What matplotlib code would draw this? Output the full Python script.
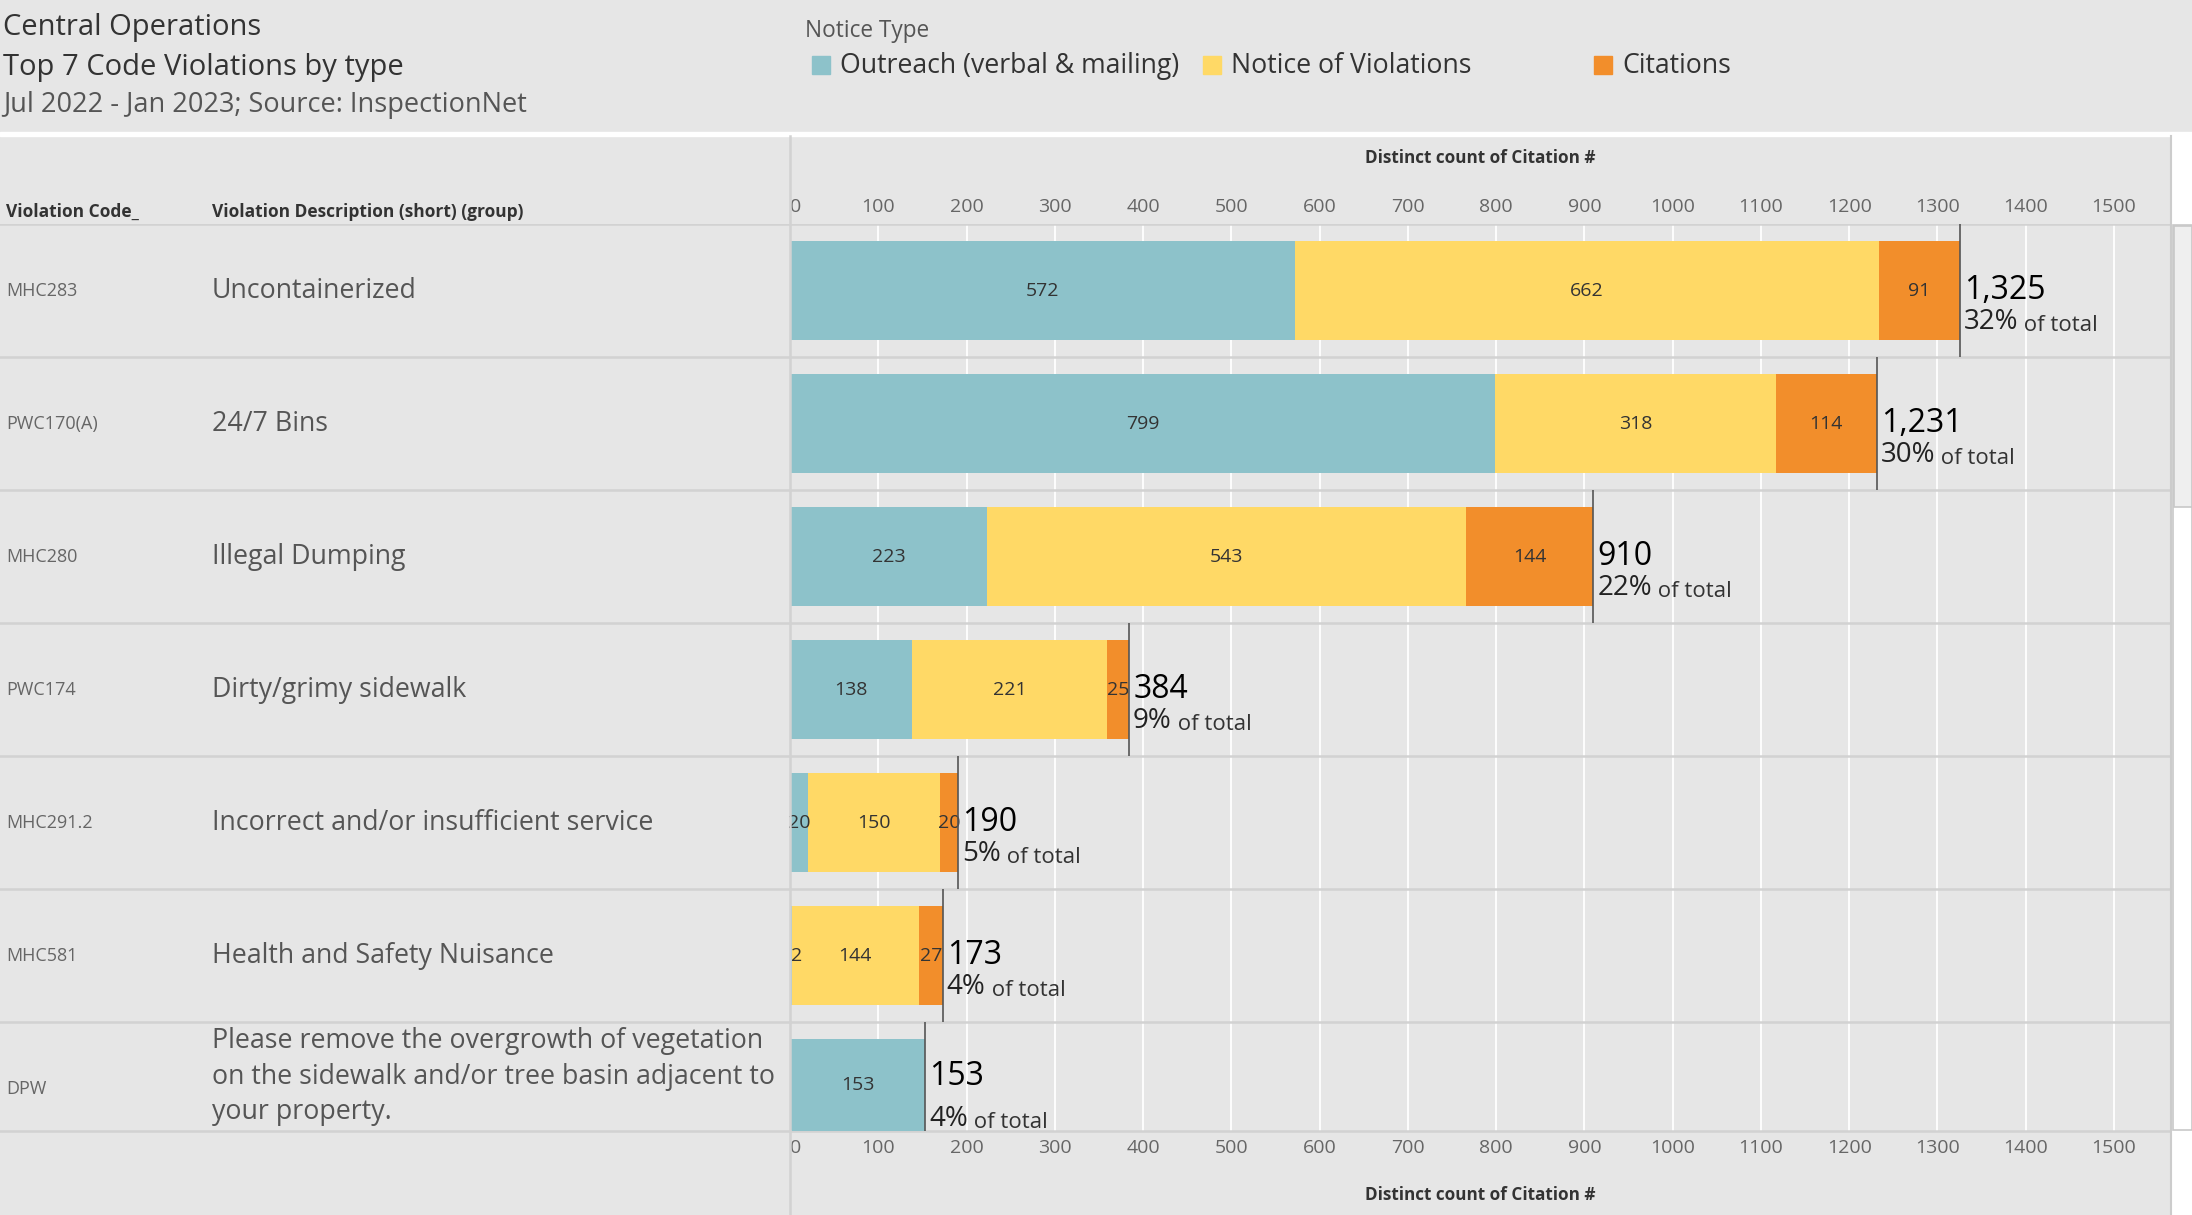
import matplotlib
matplotlib.use('Agg')
import matplotlib.pyplot as plt
from matplotlib.patches import Rectangle
from matplotlib.lines import Line2D

plt.rcParams['font.family'] = ['Open Sans', 'DejaVu Sans']

# data
codes = ['MHC283', 'PWC170(A)', 'MHC280', 'PWC174', 'MHC291.2', 'MHC581', 'DPW']
descriptions = ['Uncontainerized', '24/7 Bins', 'Illegal Dumping', 'Dirty/grimy sidewalk',
                'Incorrect and/or insufficient service', 'Health and Safety Nuisance',
                'Please remove the overgrowth of vegetation\non the sidewalk and/or tree basin adjacent to\nyour property.']
outreach = [572, 799, 223, 138, 20, 2, 153]
notices = [662, 318, 543, 221, 150, 144, 0]
citations = [91, 114, 144, 25, 20, 27, 0]
totals = [1325, 1231, 910, 384, 190, 173, 153]
pct_of_total = [32, 30, 22, 9, 5, 4, 4]
ticks = list(range(0, 1600, 100))

types = ['Outreach (verbal & mailing)', 'Notice of Violations', 'Citations']
colors = ['#8dc2ca', '#ffd966', '#f28e2b']

W, H = 2192, 1215
BG = '#e6e6e6'
LINE = '#d2d2d2'


def fx(x):
    return x / W


def fy(y):
    return 1 - y / H


fig = plt.figure(figsize=(W / 100, H / 100), dpi=100, facecolor=BG)

top, bottom = 224, 1131
row_px = 133
n_vis = (bottom - top) / row_px
x0, x1 = 790, 2171
px_per_unit = 1324 / 1500

# bar pane
ax = fig.add_axes([fx(x0), fy(bottom), fx(x1) - fx(x0), fy(top) - fy(bottom)])
ax.set_facecolor(BG)
ax.set_xlim(0, (x1 - x0) / px_per_unit)
ax.set_ylim(n_vis, 0)
for s in ax.spines.values():
    s.set_visible(False)

ypos = [i + 0.5 for i in range(len(codes))]
left = [0] * len(codes)
for vals, col, name in zip([outreach, notices, citations], colors, types):
    bars = ax.barh(ypos, vals, left=left, height=0.75, color=col, label=name, zorder=2)
    labs = ax.bar_label(bars, labels=[str(v) if v else '' for v in vals], label_type='center',
                        fontsize=14, color='#333333')
    # tiny first segments: keep the label inside the pane like tableau does
    for lab, v, l in zip(labs, vals, left):
        if l == 0 and 0 < v < 10:
            lab.set_ha('left')
    left = [l + v for l, v in zip(left, vals)]

ax.vlines(totals, [i for i in range(len(codes))], [i + 1 for i in range(len(codes))],
          color='#555555', lw=1.2, zorder=3)

ax.set_xticks(ticks)
ax.set_yticks([])
ax.grid(axis='x', color='white', lw=1.3)
ax.set_axisbelow(True)
ax.tick_params(axis='x', top=True, labeltop=True, bottom=True, labelbottom=True,
               length=0, labelsize=14, labelcolor='#666666', pad=6)
first = ax.xaxis.get_major_ticks()[0]
first.label1.set_ha('left')
first.label2.set_ha('left')

for k in range(len(codes)):
    ax.axhline(k, color=LINE, lw=1.8, zorder=1)
ax.axhline(n_vis, color=LINE, lw=1.8, zorder=1, clip_on=False)

for i, (t, p) in enumerate(zip(totals, pct_of_total)):
    yc = (i + min(i + 1, n_vis)) / 2
    gap = 31 if i + 1 <= n_vis else 42
    ax.annotate(f'{t:,}', (t, yc), xytext=(3, 0), textcoords='offset points',
                fontsize=23, va='center', color='black')
    pt = ax.annotate(f'{p}%', (t, yc), xytext=(3, -gap * 0.72), textcoords='offset points',
                     fontsize=20, va='center', color='#222222')
    ax.annotate(' of total', (1, 0), xycoords=pt, fontsize=16, va='bottom', color='#333333')

# label pane
lax = fig.add_axes([0, fy(bottom), fx(x0), fy(top) - fy(bottom)])
lax.set_xlim(0, x0)
lax.set_ylim(n_vis, 0)
lax.axis('off')
for k in range(len(codes)):
    lax.axhline(k, color=LINE, lw=1.8)
lax.axhline(n_vis, color=LINE, lw=1.8, clip_on=False)
for i, (c, d) in enumerate(zip(codes, descriptions)):
    yc = (i + min(i + 1, n_vis)) / 2
    lax.text(6, i + 0.5, c, fontsize=13, color='#666666', va='center')
    lax.text(212, yc, d, fontsize=19.3, color='#555555', va='center', linespacing=1.38)

fig.text(fx(6), fy(212), 'Violation Code_', fontsize=12.5, fontweight='bold', color='#333333', va='center')
fig.text(fx(212), fy(212), 'Violation Description (short) (group)', fontsize=12.5,
         fontweight='bold', color='#333333', va='center')
fig.text(fx((x0 + x1) / 2), fy(158), 'Distinct count of Citation #', fontsize=12.3,
         fontweight='bold', color='#333333', ha='center', va='center')
fig.text(fx((x0 + x1) / 2), fy(1195), 'Distinct count of Citation #', fontsize=12.3,
         fontweight='bold', color='#333333', ha='center', va='center')

# header
fig.text(fx(3), fy(27), 'Central Operations', fontsize=21, color='#333333', va='center')
fig.text(fx(3), fy(67), 'Top 7 Code Violations by type', fontsize=21, color='#333333', va='center')
fig.text(fx(3), fy(105), 'Jul 2022 - Jan 2023; Source: InspectionNet', fontsize=19.5,
         color='#555555', va='center')
fig.text(fx(805), fy(31), 'Notice Type', fontsize=16.3, color='#555555', va='center')
for sx, name, col in zip([812, 1203, 1594], types, colors):
    fig.add_artist(Rectangle((fx(sx), fy(74)), fx(18), fy(56) - fy(74),
                             transform=fig.transFigure, color=col))
    fig.text(fx(sx + 28), fy(66), name, fontsize=19.2, color='#333333', va='center')

# frame lines, separator and scroll bar
fig.add_artist(Rectangle((0, fy(136)), 1, fy(132) - fy(136), transform=fig.transFigure,
                         color='white'))
fig.add_artist(Rectangle((fx(2172), 0), fx(20), fy(136), transform=fig.transFigure,
                         color='white'))
fig.add_artist(Rectangle((fx(2173), fy(1130)), fx(19), fy(225) - fy(1130),
                         transform=fig.transFigure, facecolor='white', edgecolor='#c8c8c8', lw=1.2))
fig.add_artist(Rectangle((fx(2174), fy(507)), fx(18), fy(226) - fy(507),
                         transform=fig.transFigure, facecolor='#efefef', edgecolor='#c8c8c8', lw=1.2))
fig.add_artist(Line2D([fx(x0)] * 2, [fy(136), 0], transform=fig.transFigure, color=LINE, lw=1.8))
fig.add_artist(Line2D([fx(x1)] * 2, [fy(136), 0], transform=fig.transFigure, color='#cccccc', lw=1.5))

fig.savefig('out.png', dpi=100, facecolor=BG)
